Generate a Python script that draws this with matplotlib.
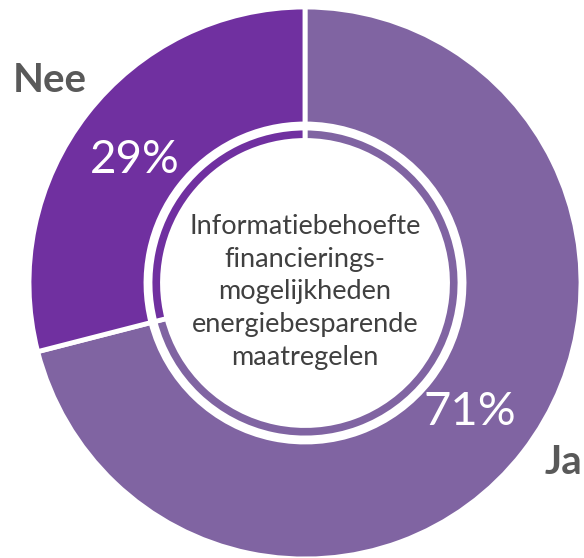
import matplotlib
matplotlib.use("Agg")
import matplotlib.pyplot as plt

# Data
labels = ["Ja", "Nee"]
shares = [71, 29]
colors = ["#8064A2", "#7030A0"]
center_title = "Informatiebehoefte\nfinancierings-\nmogelijkheden\nenergiebesparende\nmaatregelen"

W, H = 584, 558
fig = plt.figure(figsize=(W / 100, H / 100), dpi=100)
ax = fig.add_axes([0, 0, 1, 1])

cx, cy = 305, H - 283

# outer ring
ax.pie(shares, colors=colors, startangle=90, counterclock=False,
       center=(cx, cy), radius=276,
       wedgeprops=dict(width=117, edgecolor="white", linewidth=3.5))
# inner thin ring
ax.pie(shares, colors=colors, startangle=90, counterclock=False,
       center=(cx, cy), radius=155,
       wedgeprops=dict(width=12.5, edgecolor="white", linewidth=3.5))

ax.set_xlim(0, W)
ax.set_ylim(0, H)
ax.set_aspect("equal")
ax.axis("off")

# percentages
ax.text(135, H - 160, f"{shares[1]}%", color="white", fontsize=33,
        family="Lato", ha="center", va="center")
ax.text(470, H - 412, f"{shares[0]}%", color="white", fontsize=34,
        family="Lato", ha="center", va="center")

# category labels
ax.text(50, H - 80, labels[1], color="#595959", fontsize=29,
        family="Lato", fontweight="bold", ha="center", va="center")
ax.text(545, H - 462, labels[0], color="#595959", fontsize=29,
        family="Lato", fontweight="bold", ha="left", va="center")

# centre text
ax.text(cx, H - 292, center_title, color="#404040", fontsize=19.5,
        family="Lato", ha="center", va="center", linespacing=1.38)

fig.savefig("out.png", dpi=100)
